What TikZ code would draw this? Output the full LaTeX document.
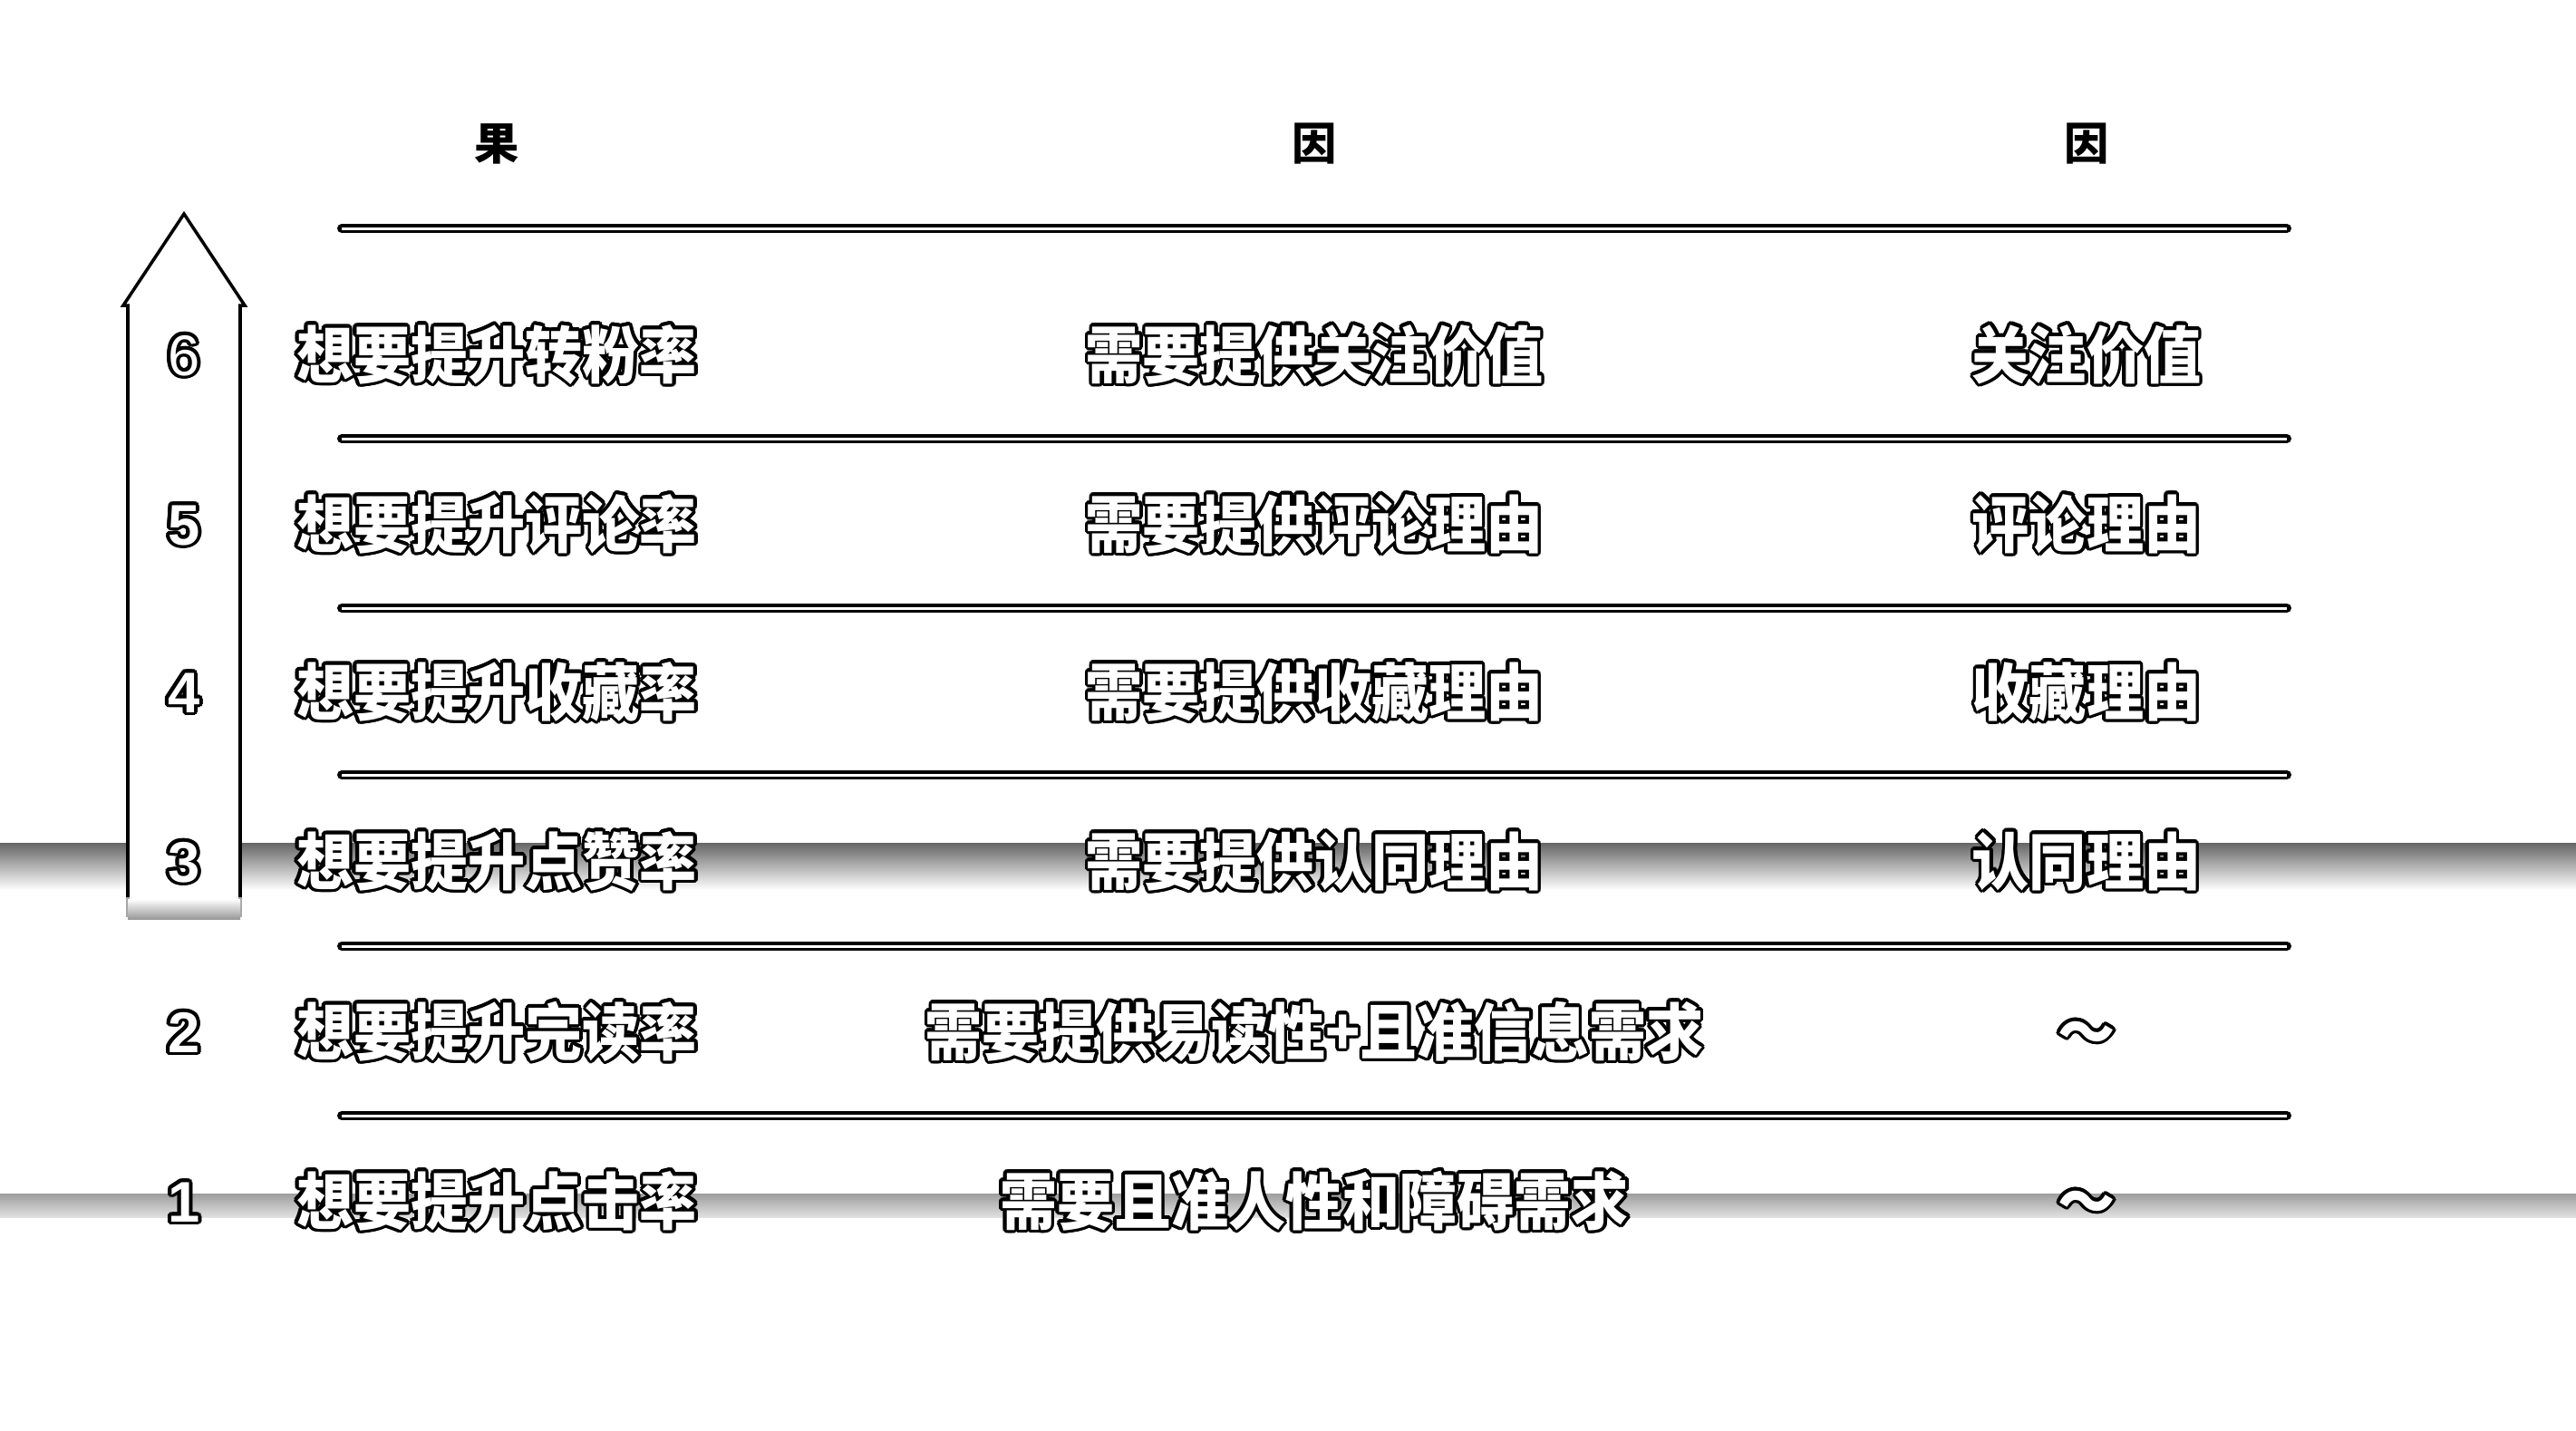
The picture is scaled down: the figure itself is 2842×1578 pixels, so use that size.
\documentclass[tikz,border=0pt]{standalone}
\usepackage{fontspec}
\usepackage{graphicx}
\newfontfamily\cjk{Noto Sans CJK SC}
\newfontfamily\numf{Liberation Sans}
\tikzset{
  cjkt/.style={font=\cjk\bfseries\fontsize{19.5pt}{22pt}\selectfont, inner sep=0pt, anchor=base, xscale=0.92},
  numt/.style={font=\numf\bfseries\fontsize{18pt}{20pt}\selectfont, inner sep=0pt, anchor=base},
  numthin/.style={font=\numf\fontsize{18pt}{20pt}\selectfont, inner sep=0pt, anchor=base},
  headt/.style={font=\cjk\bfseries\fontsize{14pt}{16pt}\selectfont, inner sep=0pt, anchor=base, text=black},
  rulebk/.style={line width=2.85pt, black, line cap=round},
  rulewt/.style={line width=0.85pt, white},
  arrowln/.style={line width=1pt, black, line join=miter},
}
\newcommand\outl[4]{%
  \foreach \a in {0,22.5,...,337.5}{%
    \node[#3,text=black,xshift={1.1pt*cos(\a)},yshift={1.1pt*sin(\a)}] at (#2) {#4};}%
  \node[#3,text=white] (#1) at (#2) {#4};}
\begin{document}
\begin{tikzpicture}[x=0.01cm,y=-0.01cm]
\fill[white] (0,0) rectangle (2842,1578);
\useasboundingbox (0,0) rectangle (2842,1578);
% halftone bands
\shade[top color=black!60, bottom color=white] (0,930) rectangle (2842,982);
\shade[top color=black!38, bottom color=black!12] (0,1317) rectangle (2842,1343);
% arrow
\fill[white] (141,1014) -- (141,337) -- (136,337) -- (203,236) -- (270,337) -- (265,337) -- (265,1014) -- cycle;
\draw[arrowln] (141,990) -- (141,337) -- (136,337) -- (203,236) -- (270,337) -- (265,337) -- (265,990);
\draw[line width=1pt, black!35] (141,990) -- (141,1012);
\draw[line width=1pt, black!35] (265,990) -- (265,1012);
\shade[top color=white, bottom color=black!40] (141,992) rectangle (265,1014);
% headers
\node[headt] (h1) at (548,176) {果};
\node[headt] (h2) at (1450,176) {因};
\node[headt] (h3) at (2302,176) {因};
% rules
\foreach \yy in {252,484,671,855,1044,1231}{
  \draw[rulebk] (377,\yy) -- (2523,\yy);
  \draw[rulewt] (377,\yy) -- (2523,\yy);
}
% digits
\outl{d6}{203,414}{numthin}{6}
\outl{d5}{203,601}{numt}{5}
\outl{d4}{203,786}{numt}{4}
\outl{d3}{203,973}{numt}{3}
\outl{d2}{203,1161}{numt}{2}
\outl{d1}{203,1348}{numt}{1}
% left column
\outl{l6}{548,417}{cjkt}{想要提升转粉率}
\outl{l5}{548,604}{cjkt}{想要提升评论率}
\outl{l4}{548,789}{cjkt}{想要提升收藏率}
\outl{l3}{548,976}{cjkt}{想要提升点赞率}
\outl{l2}{548,1164}{cjkt}{想要提升完读率}
\outl{l1}{548,1351}{cjkt}{想要提升点击率}
% middle column
\outl{m6}{1450,417}{cjkt}{需要提供关注价值}
\outl{m5}{1450,604}{cjkt}{需要提供评论理由}
\outl{m4}{1450,789}{cjkt}{需要提供收藏理由}
\outl{m3}{1450,976}{cjkt}{需要提供认同理由}
\outl{m2}{1450,1164}{cjkt}{需要提供易读性+且准信息需求}
\outl{m1}{1450,1351}{cjkt}{需要且准人性和障碍需求}
% right column
\outl{r6}{2302,417}{cjkt}{关注价值}
\outl{r5}{2302,604}{cjkt}{评论理由}
\outl{r4}{2302,789}{cjkt}{收藏理由}
\outl{r3}{2302,976}{cjkt}{认同理由}
\outl{r2}{2302,1164}{cjkt}{～}
\outl{r1}{2302,1351}{cjkt}{～}
\end{tikzpicture}
\end{document}
